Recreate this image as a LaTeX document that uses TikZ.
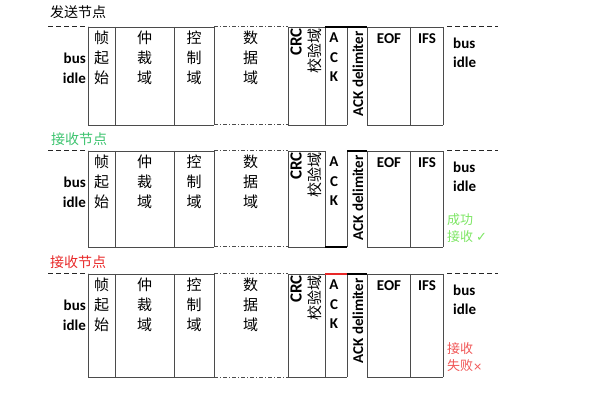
\documentclass[tikz,border=0pt]{standalone}
\usepackage{fontspec}
\setmainfont{Carlito}
\newfontfamily\cjk{Noto Sans CJK SC}
\newfontfamily\markfont{DejaVu Sans}
\usetikzlibrary{positioning}
\definecolor{lineGray}{RGB}{75,75,75}
\definecolor{rxGreen}{RGB}{60,195,110}
\definecolor{okGreen}{RGB}{125,230,100}
\definecolor{rxRed}{RGB}{232,40,40}
\definecolor{failRed}{RGB}{240,85,85}
\tikzstyle{frameLine}=[draw=lineGray, line width=0.9pt]
\tikzstyle{idleLine}=[draw=black!85, line width=1pt, dash pattern=on 5pt off 3pt]
\tikzstyle{dataLine}=[draw=lineGray, line width=1pt, dash pattern=on 4pt off 2pt on 1pt off 2pt]
\tikzstyle{ackLine}=[draw=black, line width=2pt]
\tikzstyle{fieldText}=[font=\cjk\fontsize{15}{20}\selectfont, align=center, inner sep=0pt, anchor=north]
\tikzstyle{latinText}=[font=\bfseries\fontsize{15}{19}\selectfont, inner sep=0pt]
\tikzstyle{nodeTitle}=[font=\cjk\fontsize{14}{16}\selectfont, inner sep=0pt, anchor=west]
\tikzstyle{resultText}=[font=\cjk\fontsize{13}{17}\selectfont, inner sep=0pt, anchor=north west, align=left]

\begin{document}
\begin{tikzpicture}[x=1pt,y=-1pt]
	\useasboundingbox (0,0) rectangle (603,406);

	\node[nodeTitle] (t1) at (50,12) {发送节点};
	\node[nodeTitle, text=rxGreen] (t2) at (51,139) {接收节点};
	\node[nodeTitle, text=rxRed] (t3) at (50,262) {接收节点};

	\foreach \t/\b/\r in {27/125/1, 151/247/2, 274/377/3} {
		\draw[idleLine] (48,\t) -- (88,\t);
		\draw[idleLine] (447,\t) -- (498,\t);
		\foreach \x in {88,115,174,214,288,325,347,367,410,443}
			\draw[frameLine] (\x,\t) -- (\x,\b);
		\draw[frameLine] (88,\t) -- (214,\t) (288,\t) -- (325,\t) (367,\t) -- (443,\t);
		\draw[frameLine] (88,\b) -- (214,\b) (288,\b) -- (325,\b) (367,\b) -- (443,\b);
		\draw[dataLine] (214,\t) -- (288,\t) (214,\b) -- (288,\b);

		\node[latinText, anchor=east] (busL\r) at (86,\t+31) {bus};
		\node[latinText, anchor=east] (idleL\r) at (86,\t+51) {idle};
		\node[fieldText] (sof\r) at (101.5,\t+4) {帧\\起\\始};
		\node[fieldText] (arb\r) at (144.5,\t+4) {仲\\裁\\域};
		\node[fieldText] (ctrl\r) at (194,\t+4) {控\\制\\域};
		\node[fieldText] (data\r) at (250.5,\t+4) {数\\据\\域};
		\node[latinText, rotate=90, anchor=east, font=\bfseries\fontsize{17}{19}\selectfont] (crc\r) at (296,\t+1) {CRC};
		\node[font=\cjk\fontsize{15}{18}\selectfont, inner sep=0pt, rotate=90, anchor=east] (chk\r) at (315,\t+1) {校验域};
		\node[latinText, align=center, anchor=north, font=\bfseries\fontsize{15}{19.5}\selectfont] (ack\r) at (334,\t+6) {A\\C\\K};
		\node[latinText, rotate=90, anchor=east] (del\r) at (358,\t+4) {ACK delimiter};
		\node[latinText] (eof\r) at (389,\t+12) {EOF};
		\node[latinText] (ifs\r) at (427,\t+12) {IFS};
		\node[latinText, anchor=west] (busR\r) at (453,\t+16) {bus};
		\node[latinText, anchor=west] (idleR\r) at (453,\t+35) {idle};
	}

	% ACK slot of each frame
	\draw[ackLine] (325,27) -- (367,27);
	\draw[frameLine] (325,125) -- (347,125);
	\draw[ackLine] (347,151) -- (367,151);
	\draw[ackLine] (325,247) -- (347,247);
	\draw[draw=rxRed, line width=1.4pt] (325,274) -- (347,274);
	\draw[ackLine] (347,274) -- (367,274);
	\draw[frameLine] (325,377) -- (347,377);

	\node[resultText, text=okGreen] (ok) at (447,213) {成功\\接收 {\markfont\fontsize{13}{17}\selectfont ✓}};
	\node[resultText, text=failRed] (fail) at (447,342) {接收\\失败{\markfont\fontsize{11}{17}\selectfont ×}};
\end{tikzpicture}
\end{document}
